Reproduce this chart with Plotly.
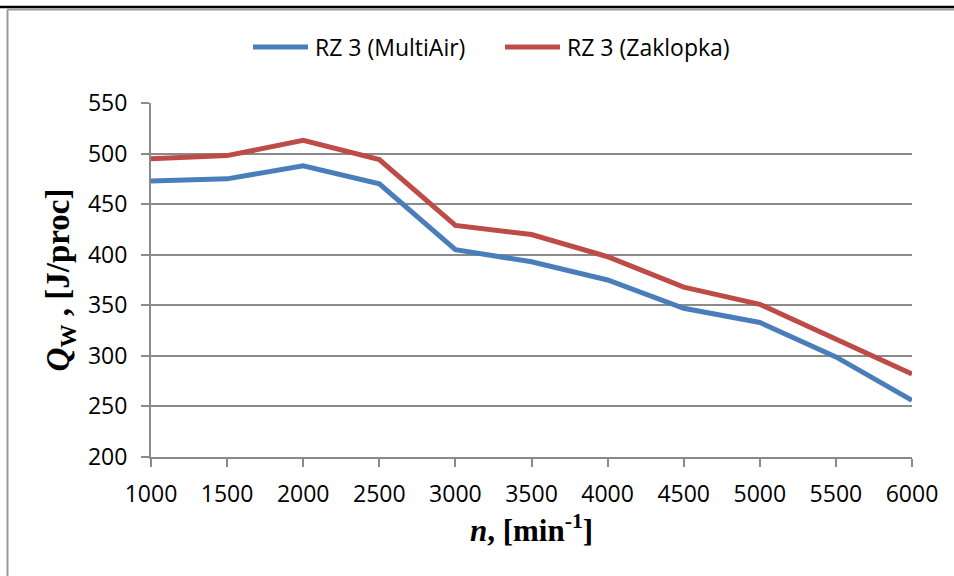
import plotly.graph_objects as go

# Engine speed [min^-1]
speed = [1000, 1500, 2000, 2500, 3000, 3500, 4000, 4500, 5000, 5500, 6000]

# Heat released per cycle Q_W [J/proc]
q_multiair = [473, 475, 488, 470, 405, 393, 375, 347, 333, 299, 256]
q_zaklopka = [495, 498, 513, 494, 429, 420, 398, 368, 351, 317, 282]

series_names = ["RZ 3 (MultiAir)", "RZ 3 (Zaklopka)"]
series_colors = ["#4A7EBB", "#BE4B48"]

W, H = 954, 576
L, R, T, B = 151, 912, 103, 457  # plot area in pixels


def px_x(x):
    return (x - L) / (R - L)


def px_y(y):
    return (B - y) / (B - T)


fig = go.Figure()
for name, vals, col in zip(series_names, [q_multiair, q_zaklopka], series_colors):
    fig.add_trace(go.Scatter(
        x=speed, y=vals, mode="lines", name=name,
        line=dict(color=col, width=5), showlegend=False,
    ))

grid = "#8a8a8a"
tick_font = dict(family="Open Sans", size=23, color="#000000")

fig.update_layout(
    width=W, height=H,
    margin=dict(l=L, r=W - R, t=T, b=H - B),
    paper_bgcolor="white", plot_bgcolor="white",
    xaxis=dict(
        range=[1000, 6000], dtick=500, tick0=1000,
        showgrid=False, zeroline=False,
        showline=True, linecolor=grid, linewidth=2,
        ticks="outside", ticklen=8, tickwidth=2, tickcolor=grid,
        tickfont=tick_font, ticklabelstandoff=7,
        title=dict(
            text="<b><i>n</i>, [min<sup>-1</sup>]</b>",
            font=dict(family="Liberation Serif", size=31, color="#000000"),
            standoff=11,
        ),
    ),
    yaxis=dict(
        range=[200, 550], dtick=50, tick0=200,
        showgrid=True, gridcolor=grid, gridwidth=1.5,
        zeroline=False,
        showline=True, linecolor=grid, linewidth=2,
        ticks="outside", ticklen=8, tickwidth=2, tickcolor=grid,
        tickfont=tick_font, ticklabelstandoff=9,
        title=dict(
            text="<b><i>Q</i><sub>W</sub> , [J/proc]</b>",
            font=dict(family="Liberation Serif", size=33, color="#000000"),
            standoff=8,
        ),
    ),
)

# Outer frame: black rule on top, grey border on the left and top
fig.add_shape(type="line", xref="paper", yref="paper",
              x0=px_x(0), x1=px_x(W), y0=px_y(7), y1=px_y(7),
              line=dict(color="#000000", width=2.5))
fig.add_shape(type="line", xref="paper", yref="paper",
              x0=px_x(7.5), x1=px_x(W), y0=px_y(9.5), y1=px_y(9.5),
              line=dict(color="#9a9a9a", width=2))
fig.add_shape(type="line", xref="paper", yref="paper",
              x0=px_x(7.5), x1=px_x(7.5), y0=px_y(9.5), y1=px_y(H),
              line=dict(color="#9a9a9a", width=2))

# Legend drawn above the plot area
legend_items = [(253, 308, 313), (505, 560, 565)]
for (x0, x1, xt), name, col in zip(legend_items, series_names, series_colors):
    fig.add_shape(type="line", xref="paper", yref="paper",
                  x0=px_x(x0), x1=px_x(x1), y0=px_y(47), y1=px_y(47),
                  line=dict(color=col, width=5))
    fig.add_annotation(xref="paper", yref="paper", x=px_x(xt), y=px_y(47),
                       xanchor="left", yanchor="middle", showarrow=False,
                       text=name, font=dict(family="Open Sans", size=23, color="#000000"))

fig.write_html("out.html")
